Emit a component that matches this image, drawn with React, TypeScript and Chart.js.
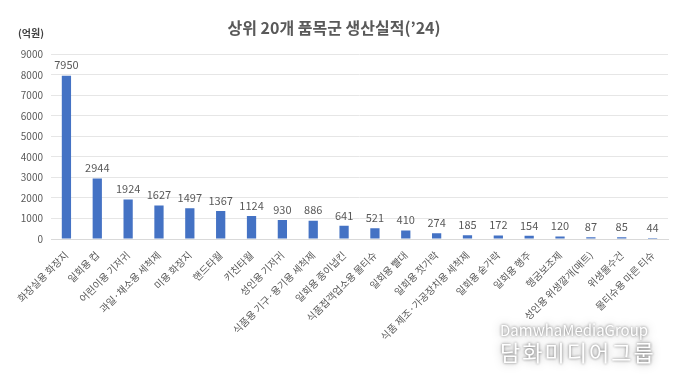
import React, { useEffect, useRef } from "react";
import { Chart, registerables } from "chart.js";

Chart.register(...registerables);

const categories = [
  "화장실용 화장지",
  "일회용 컵",
  "어린이용 기저귀",
  "과일·채소용 세척제",
  "미용 화장지",
  "핸드타월",
  "키친타월",
  "성인용 기저귀",
  "식품용 기구·용기용 세척제",
  "일회용 종이냅킨",
  "식품접객업소용 물티슈",
  "일회용 빨대",
  "일회용 젓가락",
  "식품 제조·가공장치용 세척제",
  "일회용 숟가락",
  "일회용 행주",
  "헹굼보조제",
  "성인용 위생깔개(매트)",
  "위생물수건",
  "물티슈용 마른 티슈",
];

const values = [7950, 2944, 1924, 1627, 1497, 1367, 1124, 930, 886, 641, 521, 410, 274, 185, 172, 154, 120, 87, 85, 44];

const yTicks = [0, 1000, 2000, 3000, 4000, 5000, 6000, 7000, 8000, 9000];

const FONT = "'Noto Sans CJK KR', 'Noto Sans', sans-serif";
const GRAY = "#595959";

export default function App() {
  const ref = useRef<HTMLCanvasElement | null>(null);

  useEffect(() => {
    if (!ref.current) return;
    const valueLabels = {
      id: "valueLabels",
      afterDatasetsDraw(chart: any) {
        const ctx = chart.ctx;
        const meta = chart.getDatasetMeta(0);
        ctx.save();
        ctx.font = `11px ${FONT}`;
        ctx.fillStyle = GRAY;
        ctx.textAlign = "center";
        ctx.textBaseline = "bottom";
        meta.data.forEach((bar: any, i: number) => {
          ctx.fillText(String(values[i]), bar.x, bar.y - 5);
        });
        ctx.font = `bold 10px ${FONT}`;
        ctx.textAlign = "left";
        ctx.textBaseline = "middle";
        ctx.fillStyle = "#404040";
        ctx.fillText("(억원)", 18, 33);
        ctx.restore();
      },
    };

    const chart = new Chart(ref.current, {
      type: "bar",
      data: {
        labels: categories,
        datasets: [
          {
            data: values,
            backgroundColor: "#4472C4",
            categoryPercentage: 0.6,
            barPercentage: 0.5,
          },
        ],
      },
      options: {
        animation: false,
        responsive: false,
        maintainAspectRatio: false,
        layout: { padding: { top: 0, right: 12, left: 0, bottom: 0 } },
        plugins: {
          legend: { display: false },
          tooltip: { enabled: false },
          title: {
            display: true,
            text: "상위 20개 품목군 생산실적(’24)",
            color: GRAY,
            font: { family: FONT, size: 16, weight: "bold" },
            padding: { top: 18, bottom: 17 },
          },
        },
        scales: {
          x: {
            grid: { display: false },
            border: { color: "#d9d9d9" },
            ticks: {
              color: GRAY,
              font: { family: FONT, size: 10 },
              maxRotation: 45,
              minRotation: 45,
              autoSkip: false,
              padding: 2,
            },
            afterFit(scale: any) {
              scale.height = 148;
            },
          },
          y: {
            min: 0,
            max: 9000,
            afterBuildTicks(scale: any) {
              scale.ticks = yTicks.map((v) => ({ value: v }));
            },
            grid: { color: "#e6e6e6", drawTicks: false },
            border: { display: false },
            ticks: {
              color: GRAY,
              font: { family: FONT, size: 10 },
              padding: 8,
              callback: (v: any) => String(v),
            },
            afterFit(scale: any) {
              scale.width = 51;
            },
          },
        },
      },
      plugins: [valueLabels],
    });
    return () => chart.destroy();
  }, []);

  return (
    <div style={{ position: "absolute", left: 0, top: 0, width: 680, height: 387, background: "#fff" }}>
      <canvas ref={ref} width={680} height={387} style={{ width: 680, height: 387 }} />
      <div
        style={{
          position: "absolute",
          left: 500,
          top: 322,
          fontFamily: FONT,
          color: "#ffffff",
          textShadow: "0 0 3px rgba(0,0,0,0.55), 0 0 10px rgba(0,0,0,0.35)",
          lineHeight: 1,
          pointerEvents: "none",
        }}
      >
        <div style={{ fontSize: 15, letterSpacing: 0 }}>DamwhaMediaGroup</div>
        <div style={{ fontSize: 22, marginTop: 3, letterSpacing: 2 }}>담화미디어그룹</div>
      </div>
    </div>
  );
}
